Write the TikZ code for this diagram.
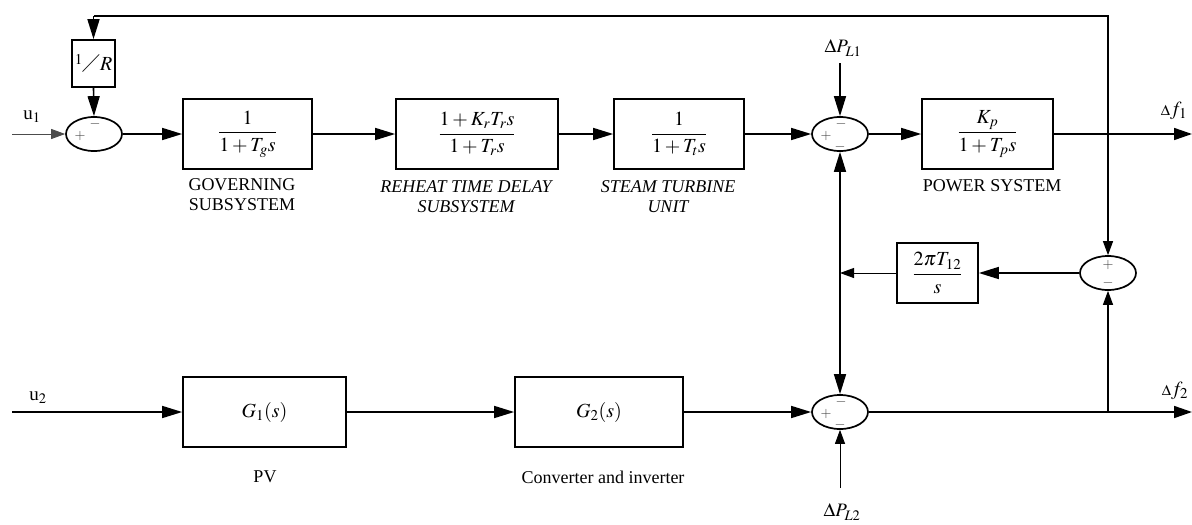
\documentclass[tikz,border=0pt]{standalone}
\usepackage{amsmath}
\usepackage{amssymb}
\usepackage{mathptmx}
\usepackage{fontspec}
\setmainfont{Liberation Serif}
\DeclareMathSizes{20}{20}{15}{11}
\DeclareMathSizes{19}{19}{14.5}{11}
\usetikzlibrary{shapes.geometric,arrows.meta,calc}
\begin{document}
\begin{tikzpicture}[x=1pt,y=-1pt,
 blk/.style={draw,line width=1.7pt,minimum height=70pt,inner sep=0pt,font=\fontsize{20}{22}\selectfont},
 sumn/.style={draw,ellipse,line width=1.7pt,minimum width=56pt,minimum height=34pt,inner sep=0pt},
 sgn/.style={font=\fontsize{14}{14}\selectfont,inner sep=0pt,text=black!75},
 thk/.style={line width=1.6pt,-{Triangle[length=20pt,width=12pt]}},
 thn/.style={line width=0.9pt,-{Triangle[length=14pt,width=10pt]}},
 lbl/.style={font=\fontsize{18}{20}\selectfont,align=center,inner sep=0pt},
 mlbl/.style={font=\fontsize{19}{21}\selectfont,align=center,inner sep=0pt},
]
\useasboundingbox (0,0) rectangle (1192,525);

% blocks
\node[blk,minimum width=43pt,minimum height=47pt] (invR) at (93.5,63.5) {$\raisebox{4pt}{$\scriptstyle 1$}\diagup\raisebox{-2pt}{$R$}$};
\node[blk,minimum width=129pt] (gov) at (247.5,134) {$\dfrac{1}{1+T_g s}$};
\node[blk,minimum width=162pt] (reh) at (477,134) {$\dfrac{1+K_rT_rs}{1+T_rs}$};
\node[blk,minimum width=130pt] (tur) at (679,134) {$\dfrac{1}{1+T_ts}$};
\node[blk,minimum width=131pt] (pow) at (987.5,134) {$\dfrac{K_p}{1+T_ps}$};
\node[blk,minimum width=81pt,minimum height=60pt] (tie) at (937.5,273) {$\dfrac{2\pi T_{12}}{s}$};
\node[blk,minimum width=163pt] (g1) at (264.5,412) {$G_1(s)$};
\node[blk,minimum width=168pt] (g2) at (599,412) {$G_2(s)$};

% summing junctions
\node[sumn] (s1) at (94,134) {};
\node[sumn] (s2) at (840,134) {};
\node[sumn] (s3) at (1108,273) {};
\node[sumn] (s4) at (840,412) {};

\node[sgn] (s1p) at (80,136) {$+$};
\node[sgn] (s1m) at (95,124) {$-$};
\node[sgn] (s2p) at (826,136) {$+$};
\node[sgn] (s2m) at (841,124) {$-$};
\node[sgn] (s2b) at (840,147) {$-$};
\node[sgn] (s3p) at (1108,265) {$+$};
\node[sgn] (s3m) at (1108,283) {$-$};
\node[sgn] (s4p) at (826,414) {$+$};
\node[sgn] (s4m) at (841,402) {$-$};
\node[sgn] (s4b) at (840,425) {$-$};

% coordinates
\coordinate (u1in) at (12,134);
\coordinate (u2in) at (12,412);
\coordinate (j1) at (1108,134);
\coordinate (top1) at (1108,16);
\coordinate (topL) at (93.5,16);
\coordinate (f1out) at (1192,134);
\coordinate (j2) at (1108,412);
\coordinate (f2out) at (1192,412);
\coordinate (dpl1) at (840,63);
\coordinate (dpl2) at (840,488);
\coordinate (jt) at (840,273);

% connectors
\draw[line width=1.6pt,line join=miter] (j1) -- (top1) -- (topL);
\draw[thk] (topL) -- (invR.north);
\draw[thk] (invR.south) -- (s1.north);
\draw[thn,draw=black!70] (u1in) -- (s1.west);
\draw[thk] (s1.east) -- (gov.west);
\draw[thk] (gov.east) -- (reh.west);
\draw[thk] (reh.east) -- (tur.west);
\draw[thk] (tur.east) -- (s2.west);
\draw[thk] (s2.east) -- (pow.west);
\draw[line width=1.6pt,-{Triangle[length=18pt,width=12pt]}] (pow.east) -- (f1out);
\draw[thk] (dpl1) -- (s2.north);
\draw[line width=1.6pt,{Triangle[length=20pt,width=12pt]}-{Triangle[length=20pt,width=12pt]}] (s2.south) -- (s4.north);
\draw[line width=1.2pt,-{Triangle[length=14pt,width=10pt]}] (j1) -- (s3.north);
\draw[thk] (s3.west) -- (tie.east);
\draw[thn] (tie.west) -- (jt);
\draw[line width=1.2pt,-{Triangle[length=14pt,width=10pt]}] (j2) -- (s3.south);
\draw[thk] (u2in) -- (g1.west);
\draw[thk] (g1.east) -- (g2.west);
\draw[thk] (g2.east) -- (s4.west);
\draw[line width=1.6pt,-{Triangle[length=18pt,width=12pt]}] (s4.east) -- (f2out);
\draw[thn] (dpl2) -- (s4.south);

% labels
\node[mlbl] (lu1) at (32,117) {u$_1$};
\node[mlbl] (lu2) at (38,398) {u$_2$};
\node[lbl] (lgov) at (242,195) {GOVERNING\\SUBSYSTEM};
\node[lbl,font=\fontsize{18}{20}\selectfont\itshape] (lreh) at (466,197) {REHEAT TIME DELAY\\SUBSYSTEM};
\node[lbl,font=\fontsize{18}{20}\selectfont\itshape] (ltur) at (668,197) {STEAM TURBINE\\UNIT};
\node[lbl] (lpow) at (992,186) {POWER SYSTEM};
\node[lbl] (lpv) at (265,477) {PV};
\node[lbl] (lconv) at (603,477) {Converter and inverter};
\node[mlbl] (ldp1) at (843,48) {$\Delta P_{L1}$};
\node[mlbl] (ldp2) at (842,512) {$\Delta P_{L2}$};
\node[mlbl,font=\fontsize{20}{22}\selectfont] (ldf1) at (1174,111) {$\scriptstyle\Delta\displaystyle f_1$};
\node[mlbl,font=\fontsize{20}{22}\selectfont] (ldf2) at (1175,391) {$\scriptstyle\Delta\displaystyle f_2$};
\end{tikzpicture}
\end{document}
